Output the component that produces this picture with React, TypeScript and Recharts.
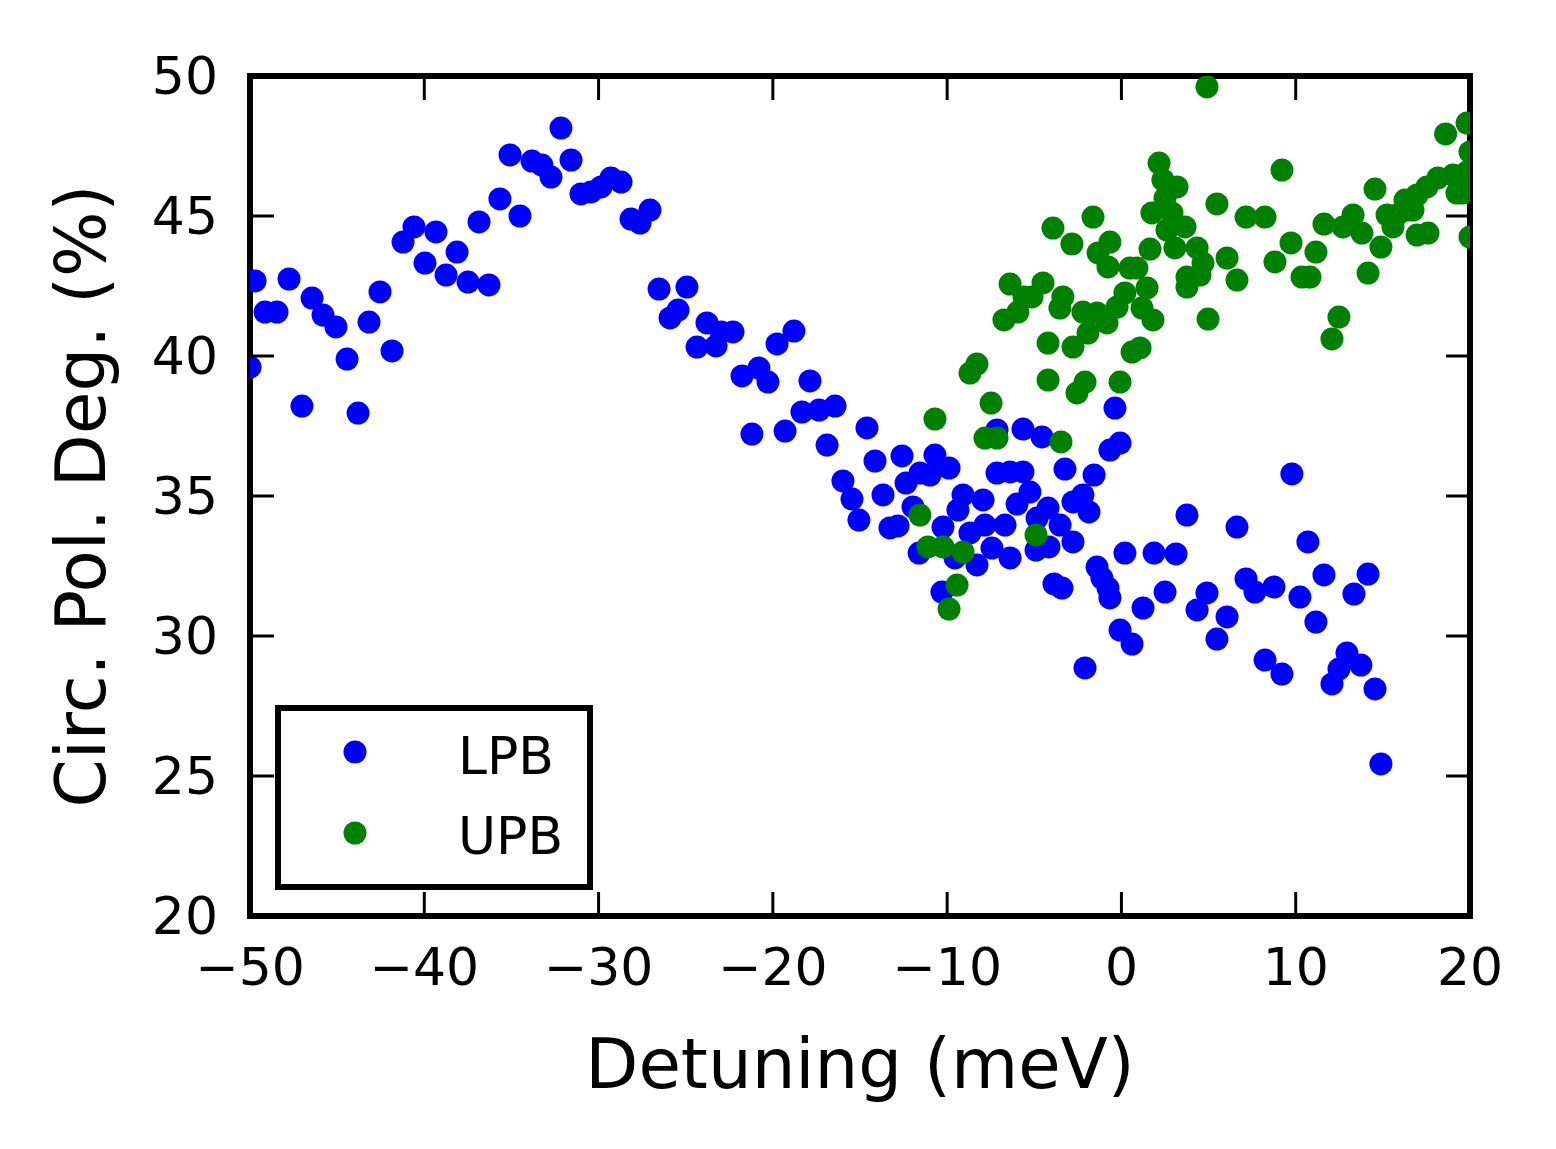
import React from 'react'
import { ScatterChart, Scatter, XAxis, YAxis, Legend, Label, ReferenceLine } from 'recharts'

// LPB (blue) points
const lpbDetuning = [
  -50.0, -49.71, -49.14, -48.45, -47.76, -47.02, -46.44, -45.81, -45.07, -44.43,
  -43.8, -43.17, -42.54, -41.85, -41.22, -40.59, -39.96, -39.33, -38.75, -38.12,
  -37.49, -36.86, -36.29, -35.66, -35.08, -34.51, -33.82, -33.25, -32.73, -32.16,
  -31.58, -31.01, -30.43, -29.86, -29.29, -28.71, -28.14, -27.62, -27.05, -26.53,
  -25.9, -25.44, -24.93, -24.35, -23.78, -23.26, -22.97, -22.29, -21.77, -21.2,
  -20.8, -20.28, -19.76, -19.3, -18.79, -18.33, -17.87, -17.35, -16.89, -16.43,
  -15.98, -15.46, -15.06, -14.6, -14.14, -13.68, -13.28, -12.82, -12.59, -12.36,
  -11.96, -11.61, -11.56, -10.98, -10.7, -10.3, -10.24, -9.89, -9.55, -9.38,
  -9.09, -8.69, -8.29, -7.94, -7.83, -7.43, -7.14, -7.14, -6.68, -6.39,
  -6.39, -5.99, -5.65, -5.65, -5.25, -4.9, -4.84, -4.56, -4.21, -4.16,
  -3.87, -3.52, -3.41, -3.24, -2.78, -2.78, -2.21, -2.09, -1.86, -1.57,
  -1.4, -1.12, -0.77, -0.66, -0.66, -0.37, -0.08, -0.08, 0.2, 0.61,
  1.24, 1.87, 2.5, 3.13, 3.76, 4.34, 4.91, 5.48, 6.06, 6.63,
  7.15, 7.66, 8.24, 8.75, 9.21, 9.78, 10.24, 10.7, 11.16, 11.62,
  12.08, 12.48, 12.94, 13.34, 13.74, 14.15, 14.55, 14.89,
]
const lpbPolarization = [
  39.6, 42.68, 41.57, 41.57, 42.75, 38.21, 42.07, 41.46, 41.04, 39.89,
  37.96, 41.21, 42.29, 40.18, 44.07, 44.61, 43.32, 44.43, 42.89, 43.71,
  42.64, 44.79, 42.54, 45.61, 47.18, 45.0, 46.96, 46.82, 46.39, 48.14,
  47.0, 45.79, 45.86, 46.04, 46.36, 46.21, 44.89, 44.75, 45.21, 42.39,
  41.36, 41.64, 42.46, 40.32, 41.18, 40.36, 40.86, 40.86, 39.29, 37.21,
  39.57, 39.07, 40.43, 37.32, 40.89, 38.0, 39.11, 38.07, 36.82, 38.21,
  35.54, 34.89, 34.14, 37.43, 36.25, 35.04, 33.86, 33.93, 36.43, 35.46,
  34.61, 32.96, 35.82, 35.75, 36.46, 31.57, 33.89, 36.0, 32.79, 34.5,
  35.04, 33.68, 32.54, 34.86, 33.96, 33.14, 35.82, 37.36, 33.96, 32.79,
  35.86, 34.71, 35.86, 37.39, 35.14, 33.07, 34.21, 37.11, 34.57, 33.18,
  31.86, 33.96, 31.71, 35.96, 34.79, 33.36, 35.04, 28.86, 34.43, 35.75,
  32.46, 32.07, 31.71, 31.36, 36.64, 38.14, 36.89, 30.21, 32.96, 29.71,
  31.0, 32.96, 31.57, 32.93, 34.32, 30.93, 31.54, 29.89, 30.68, 33.89,
  32.04, 31.57, 29.14, 31.75, 28.64, 35.79, 31.39, 33.36, 30.5, 32.18,
  28.29, 28.82, 29.39, 31.5, 28.96, 32.21, 28.11, 25.43,
]

// UPB (green) points
const upbDetuning = [
  -11.56, -11.1, -10.7, -10.24, -9.89, -9.43, -9.09, -8.69, -8.29, -7.83,
  -7.48, -7.14, -6.74, -6.39, -5.94, -5.59, -5.13, -4.9, -4.5, -4.21,
  -4.21, -3.93, -3.53, -3.47, -3.36, -2.84, -2.78, -2.55, -2.21, -2.09,
  -1.92, -1.63, -1.4, -1.34, -0.83, -0.77, -0.66, -0.25, -0.08, 0.2,
  0.49, 0.61, 0.89, 1.07, 1.18, 1.47, 1.64, 1.75, 1.81, 2.16,
  2.38, 2.5, 2.61, 2.9, 3.07, 3.19, 3.65, 3.76, 3.76, 4.34,
  4.51, 4.68, 4.91, 4.97, 5.48, 6.06, 6.63, 7.15, 8.24, 8.81,
  9.21, 9.73, 10.36, 10.82, 11.16, 11.62, 12.08, 12.48, 12.71, 13.29,
  13.8, 14.15, 14.55, 14.89, 15.24, 15.58, 15.81, 16.27, 16.38, 16.73,
  16.96, 16.96, 17.53, 17.59, 18.16, 18.6, 19.02, 19.25, 19.6, 19.83,
  19.83, 20.0, 20.0,
]
const upbPolarization = [
  34.32, 33.18, 37.75, 33.18, 30.96, 31.82, 33.0, 39.39, 39.71, 37.07,
  38.32, 37.07, 41.29, 42.57, 41.57, 42.11, 42.11, 33.61, 42.61, 40.46,
  39.14, 44.57, 41.71, 36.93, 42.11, 44.0, 40.32, 38.68, 41.57, 39.07,
  40.82, 44.96, 41.54, 43.68, 41.18, 43.18, 44.07, 41.75, 39.07, 42.25,
  43.14, 40.14, 43.14, 40.29, 41.71, 42.43, 43.82, 45.11, 41.29, 46.89,
  46.29, 45.64, 44.5, 45.11, 43.86, 46.04, 44.61, 42.82, 42.46, 43.86,
  42.89, 43.32, 49.61, 41.32, 45.43, 43.5, 42.71, 44.96, 44.96, 43.36,
  46.64, 44.04, 42.82, 42.82, 43.71, 44.71, 40.61, 41.39, 44.61, 45.04,
  44.39, 42.96, 45.96, 43.89, 45.04, 44.61, 45.04, 45.57, 45.21, 45.21,
  44.32, 45.75, 46.04, 44.39, 46.36, 47.93, 46.46, 45.82, 45.82, 46.57,
  48.32, 47.29, 44.25,
]

const xTicks = [-50, -40, -30, -20, -10, 0, 10, 20]
const yTicks = [20, 25, 30, 35, 40, 45, 50]

const lpbData = lpbDetuning.map((x, i) => ({ x, y: lpbPolarization[i] }))
const upbData = upbDetuning.map((x, i) => ({ x, y: upbPolarization[i] }))

const FONT = 'DejaVu Sans'
const BLUE = '#0000ff'
const GREEN = '#008000'

// plot box in page pixels (matplotlib style frame with inward ticks)
const TOP = 76
const BOTTOM = 916
const LEFT = 250
const RIGHT = 1470
const TICK = 24

const frame = { stroke: '#000', strokeWidth: 6, strokeLinecap: 'square' as const }
const fmt = (v: number) => (v < 0 ? `\u2212${-v}` : `${v}`)

const dot = (color: string) => (props: any) =>
  <circle cx={props.cx} cy={props.cy} r={11.5} fill={color} />

// bottom tick: label + inward tick marks on bottom and top edges
function XTick(props: any) {
  const { x, payload } = props
  return (
    <g>
      <line x1={x} y1={BOTTOM} x2={x} y2={BOTTOM - TICK} stroke="#000" strokeWidth={3} />
      <line x1={x} y1={TOP} x2={x} y2={TOP + TICK} stroke="#000" strokeWidth={3} />
      <text x={x} y={BOTTOM + 32} dy="0.71em" textAnchor="middle" fontSize={52} fontFamily={FONT} fill="#000">
        {fmt(payload.value)}
      </text>
    </g>
  )
}

// left tick: label + inward tick marks on left and right edges
function YTick(props: any) {
  const { y, payload } = props
  return (
    <g>
      <line x1={LEFT} y1={y} x2={LEFT + TICK} y2={y} stroke="#000" strokeWidth={3} />
      <line x1={RIGHT} y1={y} x2={RIGHT - TICK} y2={y} stroke="#000" strokeWidth={3} />
      <text x={LEFT - 32} y={y} dy="0.355em" textAnchor="end" fontSize={52} fontFamily={FONT} fill="#000">
        {fmt(payload.value)}
      </text>
    </g>
  )
}

function LegendBox() {
  return (
    <svg width={320} height={188} style={{ display: 'block' }}>
      <rect x={3} y={3} width={312} height={179} fill="#fff" stroke="#000" strokeWidth={6} />
      <circle cx={80} cy={47} r={11.5} fill={BLUE} />
      <text x={183} y={69} fontSize={52} fontFamily={FONT} fill="#000">LPB</text>
      <circle cx={80} cy={128} r={11.5} fill={GREEN} />
      <text x={183} y={149} fontSize={52} fontFamily={FONT} fill="#000">UPB</text>
    </svg>
  )
}

export default function App() {
  return (
    <div style={{ position: 'absolute', left: 0, top: 0, background: '#fff' }}>
      <ScatterChart width={1556} height={1149} margin={{ top: TOP, right: 1556 - RIGHT, bottom: 0, left: 0 }}>
        <XAxis
          type="number" dataKey="x" domain={[-50, 20]} ticks={xTicks} interval={0}
          allowDataOverflow height={1149 - BOTTOM} tickSize={0} tickLine={false}
          axisLine={frame} tick={<XTick />}
        >
          <Label content={() => (
            <text x={(LEFT + RIGHT) / 2} y={1088} textAnchor="middle" fontSize={69} fontFamily={FONT} fill="#000">
              Detuning (meV)
            </text>
          )} />
        </XAxis>
        <YAxis
          type="number" dataKey="y" domain={[20, 50]} ticks={yTicks} interval={0}
          allowDataOverflow width={LEFT} tickSize={0} tickLine={false}
          axisLine={frame} tick={<YTick />}
        >
          <Label content={() => (
            <text x={105} y={496} transform="rotate(-90 105 496)" textAnchor="middle"
              fontSize={69} fontFamily={FONT} fill="#000">
              Circ. Pol. Deg. (%)
            </text>
          )} />
        </YAxis>
        <Scatter name="LPB" data={lpbData} fill={BLUE} shape={dot(BLUE)} isAnimationActive={false} />
        <Scatter name="UPB" data={upbData} fill={GREEN} shape={dot(GREEN)} isAnimationActive={false} />
        <ReferenceLine y={50} {...frame} />
        <ReferenceLine x={20} {...frame} />
        <Legend
          layout="vertical" align="center" verticalAlign="middle"
          wrapperStyle={{ position: 'absolute', left: 275, top: 705, width: 320, height: 188 }}
          content={() => <LegendBox />}
        />
      </ScatterChart>
    </div>
  )
}
